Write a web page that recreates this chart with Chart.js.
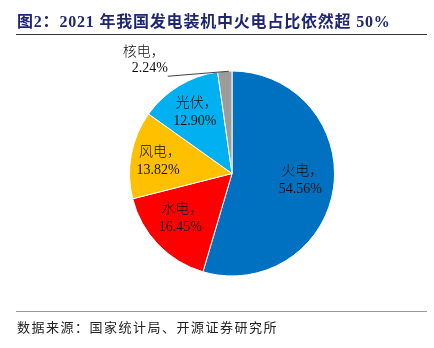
<!DOCTYPE html>
<html>
<head>
<meta charset="utf-8">
<script src="https://cdn.jsdelivr.net/npm/chart.js@4"></script>
<style>
  html, body { margin: 0; padding: 0; background: #fff; }
  #wrap { position: relative; width: 434px; height: 348px; overflow: hidden; }
  #chart { position: absolute; left: 0; top: 0; }
  .title {
    position: absolute; left: 17px; top: 8px;
    font: bold 16px 'Liberation Serif', 'Noto Sans CJK SC', serif;
    letter-spacing: 0.8px;
    color: #1F2672; white-space: nowrap;
  }
  .rule-top { position: absolute; left: 16px; top: 33.5px; width: 411px; height: 0; border-top: 1.5px solid #333; }
  .rule-bottom { position: absolute; left: 16px; top: 311px; width: 411px; height: 0; border-top: 1.5px solid #999; }
  .source {
    position: absolute; left: 17px; top: 317px;
    font: 13px 'Liberation Serif', 'Noto Sans CJK SC', serif;
    letter-spacing: 1.5px; color: #222; white-space: nowrap;
  }
</style>
</head>
<body>
<div id="wrap">
  <canvas id="chart" width="434" height="348"></canvas>
  <div class="title">图2：2021 年我国发电装机中火电占比依然超 50%</div>
  <div class="rule-top"></div>
  <div class="rule-bottom"></div>
  <div class="source">数据来源：国家统计局、开源证券研究所</div>
</div>
<script>
(() => {
  'use strict'

  // Data
  const categories = ['火电', '水电', '风电', '光伏', '核电']
  const shares = [54.56, 16.45, 13.82, 12.90, 2.24]
  const colors = ['#0070C0', '#FF0000', '#FFC000', '#00B0F0', '#9C9C9C']

  // label placement: fraction of radius and angle nudge (deg); null = outside with leader
  const labelRadius = [0.67, 0.67, 0.73, 0.70, null]
  const labelNudge = [-2.7, 2.8, -1.5, 0, 0]

  const labelFont = "300 14px 'Liberation Serif', 'Noto Sans CJK SC', serif"

  const pieLabels = {
    id: 'pieLabels',
    afterDatasetsDraw (chart) {
      const ctx = chart.ctx
      const arcs = chart.getDatasetMeta(0).data
      ctx.save()
      ctx.font = labelFont
      ctx.fillStyle = '#111'
      ctx.textAlign = 'center'
      ctx.textBaseline = 'middle'
      arcs.forEach((arc, i) => {
        const { x, y, startAngle, endAngle, outerRadius } = arc.getProps(['x', 'y', 'startAngle', 'endAngle', 'outerRadius'], true)
        const line1 = categories[i] + '，'
        const line2 = shares[i].toFixed(2) + '%'
        const mid = (startAngle + endAngle) / 2
        if (labelRadius[i] !== null) {
          const a = mid + labelNudge[i] * Math.PI / 180
          const r = outerRadius * labelRadius[i]
          const lx = x + Math.cos(a) * r
          const ly = y + Math.sin(a) * r
          ctx.fillText(line1, lx + 2, ly - 9)
          ctx.fillText(line2, lx, ly + 9)
        } else {
          // outside label with leader line
          const ex = x + Math.cos(mid) * outerRadius + 4
          const ey = y + Math.sin(mid) * outerRadius
          const tx = ex - 61
          const ty = ey + 5
          ctx.strokeStyle = '#444'
          ctx.lineWidth = 1.2
          ctx.beginPath()
          ctx.moveTo(ex, ey)
          ctx.lineTo(tx, ty)
          ctx.stroke()
          ctx.textAlign = 'right'
          ctx.fillText(line1, tx - 3, ty - 24)
          ctx.fillText(line2, tx, ty - 8)
        }
      })
      ctx.restore()
    }
  }

  // eslint-disable-next-line no-unused-vars
  const myChart = new Chart(document.getElementById('chart'), {
    type: 'pie',
    data: {
      labels: categories,
      datasets: [{
        data: shares,
        backgroundColor: colors,
        borderColor: '#fff',
        borderWidth: 1,
        hoverOffset: 0
      }]
    },
    options: {
      responsive: false,
      animation: false,
      radius: 102.5,
      layout: { padding: { left: 30, right: 0, top: 0, bottom: 1 } },
      plugins: {
        legend: { display: false },
        tooltip: { enabled: false }
      }
    },
    plugins: [pieLabels]
  })
})()
</script>
</body>
</html>
